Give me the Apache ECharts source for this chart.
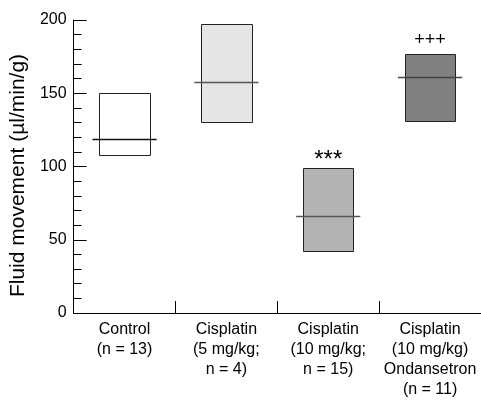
<!DOCTYPE html>
<html>
<head>
<meta charset="utf-8">
<script src="https://cdn.jsdelivr.net/npm/echarts@6/dist/echarts.min.js"></script>
<style>
html,body{margin:0;padding:0;background:#fff;}
#chart{width:481px;height:400px;}
</style>
</head>
<body>
<div id="chart"></div>
<script>
const categories = [
  'Control\n(n = 13)',
  'Cisplatin\n(5 mg/kg;\nn = 4)',
  'Cisplatin\n(10 mg/kg;\nn = 15)',
  'Cisplatin\n(10 mg/kg)\nOndansetron\n(n = 11)'
];
const lowValues = [108, 130.5, 42.5, 131];
const highValues = [150.5, 197.5, 99, 176.5];
const medianValues = [119, 158, 66.5, 161];
const annotations = ['', '', '***', '+++'];
const yTickValues = [0, 50, 100, 150, 200];

const boxFills = ['#ffffff', '#e5e5e5', '#b3b3b3', '#808080'];
const medianColors = ['#111111', '#555555', '#555555', '#444444'];
const FONT = '"Liberation Sans", Arial, Helvetica, sans-serif';

const seriesData = categories.map((c, i) => [i, lowValues[i], highValues[i], medianValues[i]]);

const chart = echarts.init(document.getElementById('chart'), null, {renderer: 'canvas'});
chart.setOption({
  animation: false,
  backgroundColor: '#ffffff',
  grid: {left: 69, right: 0, top: 20, bottom: 80},
  xAxis: {
    type: 'category',
    data: categories,
    boundaryGap: true,
    axisLine: {lineStyle: {color: '#000', width: 1}},
    axisTick: {show: true, inside: true, length: 12, interval: 0, lineStyle: {color: '#000'}},
    axisLabel: {
      interval: 0, margin: 7, color: '#000', fontSize: 16, lineHeight: 20,
      fontFamily: FONT, align: 'center'
    },
    splitLine: {show: false}
  },
  yAxis: {
    type: 'value',
    min: yTickValues[0],
    max: yTickValues[yTickValues.length - 1],
    interval: 50,
    name: 'Fluid movement (µl/min/g)',
    nameLocation: 'middle',
    nameGap: 38,
    nameTextStyle: {color: '#000', fontSize: 21, fontFamily: FONT, padding: [0, 18, 0, 0]},
    axisLine: {show: true, lineStyle: {color: '#000', width: 1}},
    axisTick: {show: true, inside: true, length: 13, lineStyle: {color: '#000'}},
    minorTick: {show: true, splitNumber: 5, length: 8, lineStyle: {color: '#000'}},
    axisLabel: {margin: 7, color: '#000', fontSize: 16, fontFamily: FONT},
    splitLine: {show: false},
    minorSplitLine: {show: false}
  },
  series: [{
    type: 'custom',
    data: seriesData,
    encode: {x: 0, y: [1, 2, 3]},
    renderItem: function (params, api) {
      const idx = params.dataIndex;
      const xv = api.value(0);
      const lo = api.coord([xv, api.value(1)]);
      const hi = api.coord([xv, api.value(2)]);
      const md = api.coord([xv, api.value(3)]);
      const bw = api.size([1, 0])[0];
      const boxW = bw * 0.495;
      const lineW = bw * 0.63;
      const cx = lo[0];
      const x0 = Math.round(cx - boxW / 2) + 0.5;
      const x1 = Math.round(cx + boxW / 2) + 0.5;
      const yTop = Math.round(hi[1]) + 0.5;
      const yBot = Math.round(lo[1]) + 0.5;
      const yMed = Math.round(md[1]) + 0.5;
      const children = [
        {
          type: 'rect',
          shape: {x: x0, y: yTop, width: x1 - x0, height: yBot - yTop},
          style: {fill: boxFills[idx], stroke: '#222', lineWidth: 1}
        },
        {
          type: 'line',
          shape: {x1: cx - lineW / 2, y1: yMed, x2: cx + lineW / 2, y2: yMed},
          style: {stroke: medianColors[idx], lineWidth: 1.5}
        }
      ];
      const ann = annotations[idx];
      if (ann) {
        const isStar = ann.indexOf('*') >= 0;
        children.push({
          type: 'text',
          style: {
            text: ann, x: cx, y: hi[1] - (isStar ? 8 : 14),
            textAlign: 'center', textVerticalAlign: 'middle',
            font: (isStar ? '24px ' : '18px ') + FONT, fill: '#000'
          }
        });
      }
      return {type: 'group', children: children};
    }
  }]
});
</script>
</body>
</html>
